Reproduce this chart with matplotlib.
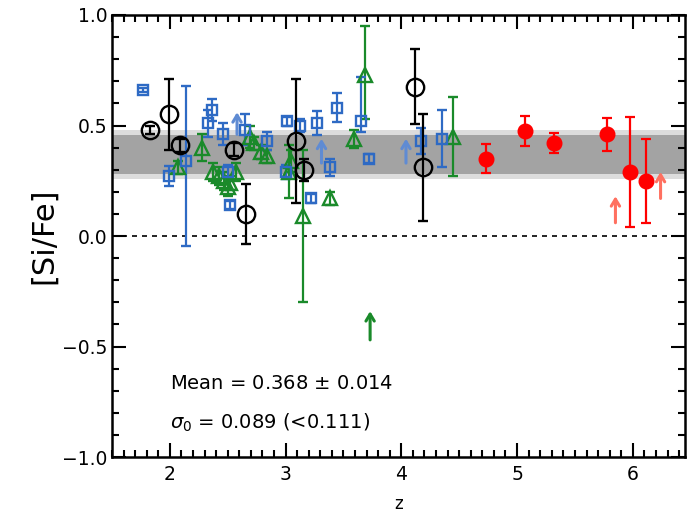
import numpy as np
import matplotlib
matplotlib.use('Agg')
import matplotlib.pyplot as plt
from matplotlib.ticker import MultipleLocator, FuncFormatter

# black open circles
z_blk = [1.83, 1.99, 2.09, 2.55, 2.66, 3.09, 3.16, 4.12, 4.19]
y_blk = [0.48, 0.55, 0.41, 0.39, 0.10, 0.43, 0.30, 0.675, 0.31]
e_blk = [0.02, 0.16, 0.03, 0.03, 0.135, 0.28, 0.05, 0.17, 0.24]

# blue open squares
z_blu = [1.77, 1.99, 2.14, 2.33, 2.36, 2.46, 2.52, 2.50, 2.65, 2.84, 3.00,
         3.01, 3.12, 3.22, 3.27, 3.38, 3.44, 3.65, 3.72, 4.17, 4.35]
y_blu = [0.66, 0.27, 0.34, 0.51, 0.57, 0.46, 0.14, 0.29, 0.48, 0.43, 0.29,
         0.52, 0.50, 0.17, 0.51, 0.31, 0.58, 0.52, 0.35, 0.43, 0.44]
elo_blu = [0.01, 0.045, 0.385, 0.06, 0.05, 0.05, 0.02, 0.03, 0.07, 0.04, 0.03,
           0.02, 0.03, 0.02, 0.055, 0.04, 0.065, 0.05, 0.02, 0.06, 0.13]
ehi_blu = [0.01, 0.045, 0.34, 0.06, 0.05, 0.05, 0.02, 0.03, 0.07, 0.04, 0.03,
           0.02, 0.03, 0.02, 0.055, 0.04, 0.065, 0.2, 0.02, 0.06, 0.13]

# green open triangles
z_grn = [2.07, 2.28, 2.37, 2.42, 2.47, 2.52, 2.57, 2.50, 2.69, 2.73, 2.79,
         2.84, 3.03, 3.05, 3.15, 3.38, 3.59, 3.69, 4.45]
y_grn = [0.31, 0.40, 0.29, 0.27, 0.25, 0.24, 0.29, 0.22, 0.45, 0.42, 0.38,
         0.36, 0.29, 0.34, 0.09, 0.17, 0.44, 0.73, 0.45]
elo_grn = [0.03, 0.06, 0.04, 0.04, 0.04, 0.03, 0.04, 0.04, 0.05, 0.03, 0.03,
           0.03, 0.12, 0.05, 0.39, 0.03, 0.04, 0.20, 0.18]
ehi_grn = [0.03, 0.06, 0.04, 0.04, 0.04, 0.03, 0.04, 0.04, 0.05, 0.03, 0.03,
           0.03, 0.12, 0.05, 0.30, 0.03, 0.04, 0.22, 0.18]

# red filled circles
z_red = [4.73, 5.07, 5.32, 5.78, 5.98, 6.11]
y_red = [0.35, 0.475, 0.42, 0.46, 0.29, 0.25]
e_red = [0.065, 0.07, 0.045, 0.075, 0.25, 0.19]

# lower limits (arrows): z, tail, tip
lim_blu = [(2.58, 0.46, 0.56), (3.31, 0.33, 0.44), (4.04, 0.33, 0.44)]
lim_grn = [(3.73, -0.47, -0.34)]
lim_red = [(5.85, 0.06, 0.18), (6.24, 0.17, 0.29)]

mean, err_mean = 0.368, 0.014
sig, sig_up = 0.089, 0.111

blue = '#2e6ac4'
green = '#1a8a2a'
red = '#ff0000'

fig = plt.figure(figsize=(6.96, 5.17), dpi=100)
ax = fig.add_axes([0.161, 0.116, 0.823, 0.855])

ax.axhspan(mean - sig_up, mean + sig_up, color='#dcdcdc', lw=0, zorder=0)
ax.axhspan(mean - sig, mean + sig, color='#a3a3a3', lw=0, zorder=0)
ax.axhline(0, color='black', ls=(0, (3, 3)), lw=1.2, zorder=1)

ax.errorbar(z_grn, y_grn, yerr=[elo_grn, ehi_grn], fmt='^', ms=10, mfc='none',
            mec=green, mew=1.7, ecolor=green, elinewidth=1.6, capsize=3.5,
            capthick=1.6, zorder=3)
ax.errorbar(z_blu, y_blu, yerr=[elo_blu, ehi_blu], fmt='s', ms=7.5, mfc='none',
            mec=blue, mew=1.7, ecolor=blue, elinewidth=1.6, capsize=3.5,
            capthick=1.6, zorder=3)
ax.errorbar(z_blk, y_blk, yerr=e_blk, fmt='o', ms=12.5, mfc='none',
            mec='black', mew=1.7, ecolor='black', elinewidth=1.6, capsize=3.5,
            capthick=1.6, zorder=4)
ax.errorbar(z_red, y_red, yerr=e_red, fmt='o', ms=10.5, mfc=red, mec=red,
            ecolor=red, elinewidth=1.6, capsize=3.5, capthick=1.6, zorder=4)

for lims, col in [(lim_blu, '#5f8bd3'), (lim_grn, green), (lim_red, '#ff7060')]:
    for z, y0, y1 in lims:
        ax.annotate('', xy=(z, y1), xytext=(z, y0),
                    arrowprops=dict(arrowstyle='->,head_length=0.5,head_width=0.3',
                                    color=col, lw=2.2, shrinkA=0, shrinkB=0),
                    zorder=5)

ax.text(2.0, -0.69, 'Mean = %.3f $\\pm$ %.3f' % (mean, err_mean), fontsize=14)
ax.text(2.0, -0.87, '$\\sigma_0$ = %.3f (<%.3f)' % (sig, sig_up), fontsize=14)

ax.set_xlim(1.5, 6.45)
ax.set_ylim(-1.0, 1.0)
ax.xaxis.set_major_locator(MultipleLocator(1))
ax.xaxis.set_minor_locator(MultipleLocator(0.1))
ax.yaxis.set_major_locator(MultipleLocator(0.5))
ax.yaxis.set_minor_locator(MultipleLocator(0.1))
ax.yaxis.set_major_formatter(FuncFormatter(lambda v, p: ('%.1f' % v).replace('-', '\u2212')))
ax.tick_params(which='both', direction='in', top=True, right=True, width=1.5,
               labelsize=13.5)
ax.tick_params(which='major', length=10)
ax.tick_params(which='minor', length=5)
ax.tick_params(axis='x', pad=6)
for s in ax.spines.values():
    s.set_linewidth(1.8)

ax.set_xlabel('z', fontsize=12, labelpad=8)
ax.set_ylabel('[Si/Fe]', fontsize=22)
ax.yaxis.set_label_coords(-0.095, 0.5)

fig.savefig('out.png', dpi=100)
